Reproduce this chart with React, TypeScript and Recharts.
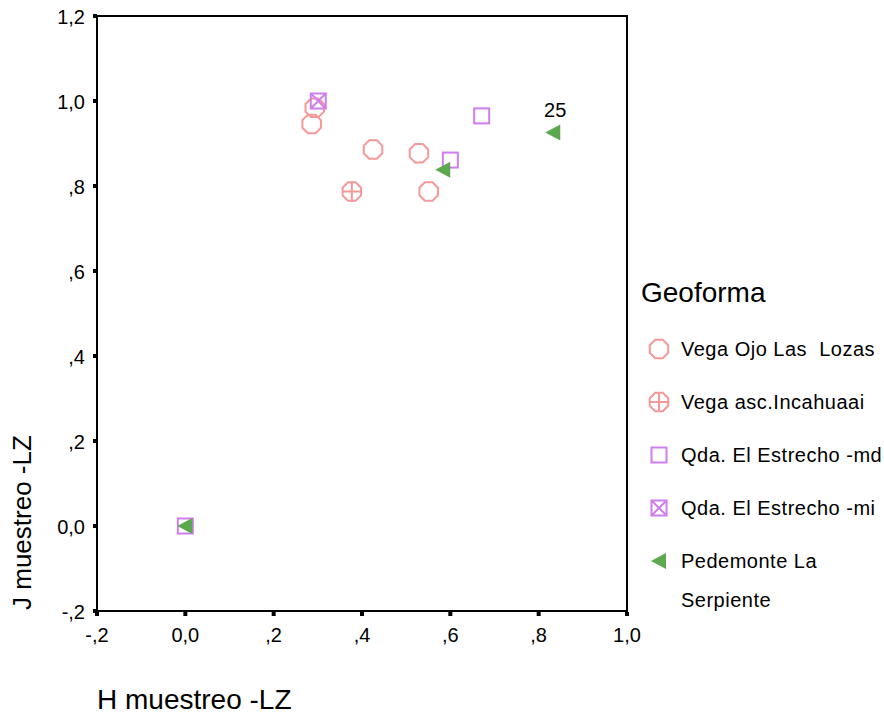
import React from 'react';
import {
  ScatterChart,
  Scatter,
  XAxis,
  YAxis,
  ZAxis,
  ReferenceArea,
} from 'recharts';

interface Pt {
  x: number;
  y: number;
  label?: string;
}

// Geoforma groups
const vegaLozas: Pt[] = [
  { x: 0.293, y: 0.984 },
  { x: 0.286, y: 0.946 },
  { x: 0.425, y: 0.886 },
  { x: 0.529, y: 0.877 },
  { x: 0.551, y: 0.787 },
];
const vegaIncahuaai: Pt[] = [{ x: 0.377, y: 0.787 }];
const estrechoMd: Pt[] = [
  { x: 0.671, y: 0.965 },
  { x: 0.6, y: 0.861 },
  { x: 0.0, y: 0.0 },
];
const estrechoMi: Pt[] = [{ x: 0.301, y: 1.0 }];
const pedemonte: Pt[] = [
  { x: 0.833, y: 0.926, label: '25' },
  { x: 0.584, y: 0.838 },
  { x: 0.0, y: 0.0 },
];

const xTicks = [-0.2, 0, 0.2, 0.4, 0.6, 0.8, 1.0];
const xTickLabels = ['-,2', '0,0', ',2', ',4', ',6', ',8', '1,0'];
const yTicks = [-0.2, 0, 0.2, 0.4, 0.6, 0.8, 1.0, 1.2];
const yTickLabels = ['-,2', '0,0', ',2', ',4', ',6', ',8', '1,0', '1,2'];

const PINK = '#F59898';
const PURPLE = '#CF7DF0';
const GREEN = '#5BA84F';
const FONT = 'Liberation Sans, Arial, sans-serif';

const octagonPts = (cx: number, cy: number, r: number) =>
  Array.from({ length: 8 }, (_, i) => {
    const a = ((22.5 + i * 45) * Math.PI) / 180;
    return `${cx + r * Math.cos(a)},${cy + r * Math.sin(a)}`;
  }).join(' ');

const Octagon = ({ cx, cy }: any) => (
  <polygon points={octagonPts(cx, cy, 10)} fill="none" stroke={PINK} strokeWidth={2} />
);

const CrossOctagon = ({ cx, cy }: any) => (
  <g stroke={PINK} strokeWidth={2} fill="none">
    <polygon points={octagonPts(cx, cy, 10)} />
    <line x1={cx - 10} y1={cy} x2={cx + 10} y2={cy} />
    <line x1={cx} y1={cy - 10} x2={cx} y2={cy + 10} />
  </g>
);

const Square = ({ cx, cy }: any) => (
  <rect x={cx - 7.5} y={cy - 7.5} width={15} height={15} fill="none" stroke={PURPLE} strokeWidth={2} />
);

const XSquare = ({ cx, cy }: any) => (
  <g stroke={PURPLE} strokeWidth={2} fill="none">
    <rect x={cx - 7.5} y={cy - 7.5} width={15} height={15} />
    <line x1={cx - 7.5} y1={cy - 7.5} x2={cx + 7.5} y2={cy + 7.5} />
    <line x1={cx + 7.5} y1={cy - 7.5} x2={cx - 7.5} y2={cy + 7.5} />
  </g>
);

const Triangle = ({ cx, cy, payload }: any) => (
  <g>
    <polygon points={`${cx - 8},${cy} ${cx + 7},${cy - 8} ${cx + 7},${cy + 8}`} fill={GREEN} />
    {payload && payload.label ? (
      <text x={cx + 2} y={cy - 15} textAnchor="middle" fontSize={20} fontFamily={FONT} fill="#000">
        {payload.label}
      </text>
    ) : null}
  </g>
);

const XTick = ({ x, y, index }: any) => (
  <g>
    <rect x={x - 2} y={y + 1} width={4} height={4} fill="#000" />
    <text x={x} y={y + 31} textAnchor="middle" fontSize={20} fontFamily={FONT} fill="#000">
      {xTickLabels[index]}
    </text>
  </g>
);

const YTick = ({ x, y, index }: any) => (
  <g>
    <rect x={x - 4} y={y - 2} width={4} height={4} fill="#000" />
    <text x={x - 12} y={y + 8} textAnchor="end" fontSize={20} fontFamily={FONT} fill="#000">
      {yTickLabels[index]}
    </text>
  </g>
);

const legendItems = [
  { name: 'Vega Ojo Las  Lozas', icon: Octagon },
  { name: 'Vega asc.Incahuaai', icon: CrossOctagon },
  { name: 'Qda. El Estrecho -md', icon: Square },
  { name: 'Qda. El Estrecho -mi', icon: XSquare },
  { name: 'Pedemonte La', icon: Triangle },
];

// legend drawn beside the plot, in its own svg
const GeoLegend = () => (
  <svg
    width={254}
    height={360}
    style={{ position: 'absolute', left: 630, top: 260 }}
    fontFamily={FONT}
  >
    <text x={11} y={42} fontSize={28} fill="#000">
      Geoforma
    </text>
    {legendItems.map((it, i) => {
      const Icon = it.icon;
      const cy = 89 + i * 53;
      return (
        <g key={it.name}>
          <Icon cx={29} cy={cy} />
          <text
            x={51}
            y={cy + 7}
            fontSize={20}
            fill="#000"
            letterSpacing={0.5}
            style={{ whiteSpace: 'pre' }}
          >
            {it.name}
          </text>
        </g>
      );
    })}
    <text x={51} y={347} fontSize={20} fill="#000" letterSpacing={0.5}>
      Serpiente
    </text>
  </svg>
);

export default function App() {
  return (
    <div style={{ position: 'absolute', left: 0, top: 0, width: 884, height: 719, background: '#fff' }}>
      <ScatterChart width={884} height={719} margin={{ top: 16, right: 257, bottom: 0, left: 0 }}>
        <XAxis
          type="number"
          dataKey="x"
          domain={[-0.2, 1.0]}
          ticks={xTicks}
          interval={0}
          height={108}
          axisLine={false}
          tickLine={false}
          tickSize={0}
          tickMargin={0}
          tick={<XTick />}
          label={{
            content: () => (
              <text x={97} y={709} fontSize={28} fontFamily={FONT} fill="#000">
                H muestreo -LZ
              </text>
            ),
          }}
        />
        <YAxis
          type="number"
          dataKey="y"
          domain={[-0.2, 1.2]}
          ticks={yTicks}
          interval={0}
          width={97}
          axisLine={false}
          tickLine={false}
          tickSize={0}
          tickMargin={0}
          tick={<YTick />}
          label={{
            content: () => (
              <text
                x={31}
                y={610}
                transform="rotate(-90 31 610)"
                fontSize={26}
                fontFamily={FONT}
                fill="#000"
              >
                J muestreo -LZ
              </text>
            ),
          }}
        />
        <ZAxis range={[100, 100]} />
        <ReferenceArea x1={-0.2} x2={1.0} y1={-0.2} y2={1.2} fill="none" stroke="#000" strokeWidth={2} />
        <Scatter name="Vega Ojo Las Lozas" data={vegaLozas} shape={<Octagon />} isAnimationActive={false} />
        <Scatter name="Vega asc.Incahuaai" data={vegaIncahuaai} shape={<CrossOctagon />} isAnimationActive={false} />
        <Scatter name="Qda. El Estrecho -md" data={estrechoMd} shape={<Square />} isAnimationActive={false} />
        <Scatter name="Qda. El Estrecho -mi" data={estrechoMi} shape={<XSquare />} isAnimationActive={false} />
        <Scatter name="Pedemonte La Serpiente" data={pedemonte} shape={<Triangle />} isAnimationActive={false} />
      </ScatterChart>
      <GeoLegend />
    </div>
  );
}
